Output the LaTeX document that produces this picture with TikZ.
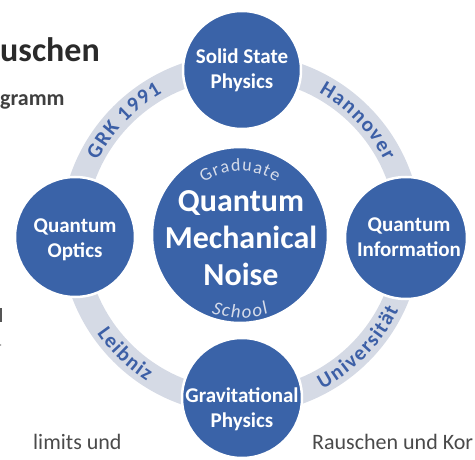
\documentclass[tikz,border=0pt]{standalone}
\usepackage{fontspec}
\setmainfont{Carlito}
\usetikzlibrary{calc}
\definecolor{cblue}{HTML}{3A63A8}
\definecolor{bandgrey}{HTML}{D5DAE5}
\definecolor{bandtxt}{HTML}{3C5FA6}
\definecolor{softw}{HTML}{D6DCEA}
\definecolor{txtgrey}{HTML}{2A2A2A}
% #1 centre, #2 baseline radius, #3 mid angle, #4 1 = tops outward / -1 = tops inward,
% #5 font size, #6 tracking, #7 font switch, #8 colour,
% #9 list of character / offset in 1/1000 em / tracking steps
\newcommand\curvechars[9]{%
  \foreach \cch/\cu/\ck in {#9}{%
    \pgfmathsetmacro\ctang{#3-(#4)*((\cu)/1000*(#5)+(#6)*(\ck))/(#2)*180/pi}%
    \node[text=#8, font=#7\fontsize{#5}{#5}\selectfont, inner sep=0pt, anchor=base,
      rotate=\ctang-(#4)*90] at ($(#1)+(\ctang:#2)$) {\cch};
  }%
}
\begin{document}
\begin{tikzpicture}[x=1pt,y=1pt,
  hub/.style={circle, fill=cblue, draw=white, line width=2.5pt, inner sep=0pt},
  hubtext/.style={text=white, align=center, inner sep=0pt, font=\bfseries\fontsize{21}{25}\selectfont},
  band/.style={draw=bandgrey, line width=25pt},
  bgtext/.style={text=txtgrey, inner sep=0pt, anchor=base west}
]
\useasboundingbox (0,0) rectangle (475,459);

% background text fragments
\node[bgtext, font=\bfseries\fontsize{34}{34}\selectfont] (t1) at (0,397) {uschen};
\node[bgtext, font=\bfseries\fontsize{22}{22}\selectfont, text=txtgrey!90] (t2) at (0,353) {gramm};
\node[bgtext, font=\fontsize{22}{22}\selectfont, text=txtgrey!85] (t3) at (33,10) {limits und};
\node[bgtext, font=\fontsize{22}{22}\selectfont, text=txtgrey!85] (t4) at (312,10) {Rauschen und Kor};
\fill[txtgrey!80] (0,137) rectangle (1.8,151);
\fill[txtgrey!60] (0.6,114) circle (0.8);

% ring bands
\coordinate (C) at (241,225);
\draw[band] (C) ++(0:168) arc[start angle=0,end angle=90,radius=168];
\draw[band] (C) ++(90:168) arc[start angle=90,end angle=180,radius=168];
\draw[band] (C) ++(180:168) arc[start angle=180,end angle=270,radius=168];
\draw[band] (C) ++(270:168) arc[start angle=270,end angle=360,radius=168];

% band labels
\curvechars{C}{161}{136}{1}{21}{1.5}{\bfseries}{bandtxt}%
  {G/-1676/-3.5,R/-1080.5/-2.5,K/-531.5/-1.5,1/216.5/0.5,9/723.5/1.5,9/1230.5/2.5,1/1737.5/3.5}
\curvechars{C}{161}{44}{1}{21}{1.5}{\bfseries}{bandtxt}%
  {H/-1719/-3.5,a/-1156.5/-2.5,n/-641/-1.5,n/-104/-0.5,o/433.5/0.5,v/939.5/1.5,e/1428/2.5,r/1857/3.5}
\curvechars{C}{175}{226}{-1}{21}{1.5}{\bfseries}{bandtxt}%
  {L/-1232/-3,e/-769/-2,i/-394.5/-1,b/-3/0,n/534/1,i/925.5/2,z/1246/3}
\curvechars{C}{175}{316}{-1}{21}{1.5}{\bfseries}{bandtxt}%
  {U/-1974/-5,n/-1379/-4,i/-987.5/-3,v/-627.5/-2,e/-139/-1,r/290/0,s/667/1,i/989.5/2,t/1286/3,ä/1706.5/4,t/2127/5}

% hubs
\node[hub, minimum size=118pt] (ss) at (242,389) {};
\node[hub, minimum size=120pt] (qo) at (75,222) {};
\node[hub, minimum size=122pt] (qi) at (406,221) {};
\node[hub, minimum size=120pt] (gp) at (242,61) {};
\node[hub, minimum size=176pt] (qmn) at (240,224) {};

\node[hubtext] (sst) at (242,389) {Solid State\\Physics};
\node[hubtext] (qot) at (75,219) {Quantum\\Optics};
\node[hubtext] (qit) at (409,222) {Quantum\\Information};
\node[hubtext] (gpt) at (242,50) {Gravitational\\Physics};
\node[hubtext, font=\bfseries\fontsize{32}{37}\selectfont] (qmnt) at (241,221) {Quantum\\Mechanical\\Noise};

\curvechars{qmn.center}{64}{90}{1}{18}{1.2}{}{softw}%
  {G/-1595/-3.5,r/-1105/-2.5,a/-691/-1.5,d/-189/-0.5,u/336/0.5,a/838/1.5,t/1245/2.5,e/1661.5/3.5}
\curvechars{qmn.center}{83}{270}{-1}{19}{1.5}{\itshape}{softw}%
  {S/-1115.5/-2.5,c/-674.5/-1.5,h/-200.5/-0.5,o/325.5/0.5,o/852.5/1.5,l/1230.5/2.5}
\end{tikzpicture}
\end{document}
